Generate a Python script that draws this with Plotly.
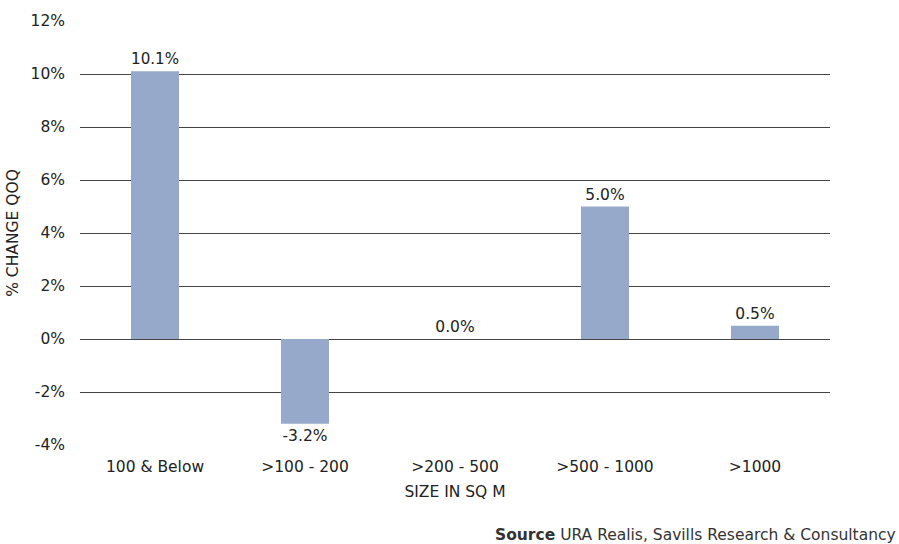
import plotly.graph_objects as go

categories = ["100 & Below", ">100 - 200", ">200 - 500", ">500 - 1000", ">1000"]
values = [10.1, -3.2, 0.0, 5.0, 0.5]
labels = ["10.1%", "-3.2%", "0.0%", "5.0%", "0.5%"]
y_ticks = [-4, -2, 0, 2, 4, 6, 8, 10, 12]
y_ticklabels = [f"{v}%" for v in y_ticks]

FONT = "DejaVu Sans, sans-serif"
FS = 15.5
fig = go.Figure(go.Bar(
    x=categories, y=values, text=labels, textposition="outside",
    textfont=dict(size=FS, color="#222"), cliponaxis=False,
    marker=dict(color="#97A9CB", line=dict(width=0)),
    width=0.32,
))
fig.update_layout(
    width=899, height=544, margin=dict(l=78, r=69, t=21, b=99),
    paper_bgcolor="white", plot_bgcolor="white",
    font=dict(family=FONT, size=FS, color="#222"),
    showlegend=False,
    xaxis=dict(title=dict(text="SIZE IN SQ M", standoff=11, font=dict(size=FS)),
               showgrid=False, showline=False, ticks="", ticklabelstandoff=10,
               tickfont=dict(size=FS)),
    yaxis=dict(range=[-4, 12], tickvals=y_ticks, ticktext=y_ticklabels,
               showgrid=True, gridcolor="#444", gridwidth=1, zeroline=False,
               showline=False, ticks="", ticklabelstandoff=14,
               title=dict(text="% CHANGE QOQ", standoff=8, font=dict(size=FS))),
    annotations=[dict(text="<b>Source</b> URA Realis, Savills Research & Consultancy",
                      xref="paper", yref="paper", x=1.0, xshift=68, y=0, yshift=-79,
                      xanchor="right", yanchor="top", showarrow=False,
                      font=dict(size=15.5, color="#333"))],
)
fig.write_html("out.html")
